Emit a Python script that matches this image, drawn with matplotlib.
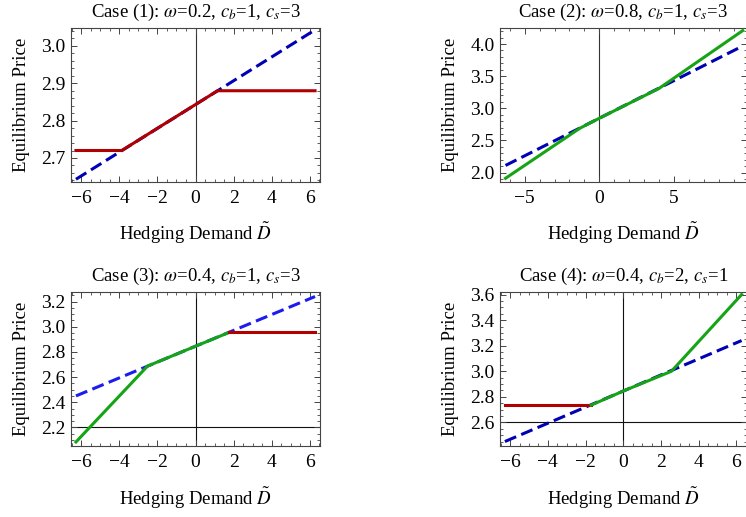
import matplotlib
matplotlib.use("Agg")
import matplotlib.pyplot as plt
from matplotlib.ticker import MultipleLocator, FuncFormatter

plt.rcParams['font.family'] = ['Liberation Serif', 'DejaVu Serif']
plt.rcParams['mathtext.fontset'] = 'stix'
plt.rcParams['axes.unicode_minus'] = True

# ---------------- data ----------------
titles = [r"Case (1): $\omega$=0.2, $c_b$=1, $c_s$=3",
          r"Case (2): $\omega$=0.8, $c_b$=1, $c_s$=3",
          r"Case (3): $\omega$=0.4, $c_b$=1, $c_s$=3",
          r"Case (4): $\omega$=0.4, $c_b$=2, $c_s$=1"]
xlabel = r"Hedging Demand $\tilde{D}$"
ylabel = "Equilibrium Price"

# Case 1
c1_blue_x = [-6.28, 6.28]
c1_blue_y = [2.643, 3.043]
c1_red_x = [-6.28, -3.87, 1.16, 6.28]
c1_red_y = [2.72, 2.72, 2.88, 2.88]

# Case 2
c2_blue_x = [-6.28, 9.6]
c2_blue_y = [2.11, 3.97]
c2_green_x = [-6.28, -1.3, 0.0, 4.0, 9.6]
c2_green_y = [1.91, 2.69, 2.845, 3.31, 4.21]

# Case 3
c3_blue_x = [-6.28, 6.28]
c3_blue_y = [2.45, 3.24]
c3_green_x = [-6.28, -2.52, 0.0, 1.77]
c3_green_y = [2.084, 2.687, 2.845, 2.955]
c3_red_x = [1.77, 6.28]
c3_red_y = [2.955, 2.955]

# Case 4
c4_blue_x = [-6.28, 6.28]
c4_blue_y = [2.45, 3.24]
c4_red_x = [-6.28, -1.7]
c4_red_y = [2.735, 2.735]
c4_green_x = [-1.7, 0.0, 2.56, 6.28]
c4_green_y = [2.735, 2.845, 3.0, 3.6]

xlims = [(-6.54, 6.54), (-6.65, 9.85), (-6.54, 6.54), (-6.54, 6.54)]
ylims = [(2.637, 3.048), (1.86, 4.25), (2.052, 3.276), (2.415, 3.62)]
x_major = [2, 5, 2, 2]
x_minor = [0.5, 1, 0.5, 0.5]
y_major = [0.1, 0.5, 0.2, 0.2]
y_minor = [0.02, 0.1, 0.05, 0.05]
hlines = [None, None, 2.2, 2.6]

# ---------------- styling ----------------
RED = '#b00000'
GREEN = '#15a415'
BLUE_DARK = '#0000b4'
BLUE_BRIGHT = '#1c1cf0'
LW = 2.2
DASH = (4, 1.8)

W, H = 746, 517
fig = plt.figure(figsize=(W / 100, H / 100), dpi=100)


def pos(l, t, r, b):
    return [l / W, 1 - b / H, (r - l) / W, (b - t) / H]


def fmt_int(v, p):
    s = '%d' % round(v)
    return s.replace('-', '\u2212')


def fmt_1(v, p):
    s = '%.1f' % v
    return s.replace('-', '\u2212')


boxes = [pos(71, 28, 320, 181.5), pos(500, 28, 746.5, 181.5),
         pos(71, 292, 320, 446), pos(500, 292, 746.5, 446)]
axes = [fig.add_axes(b) for b in boxes]

for i, ax in enumerate(axes):
    ax.set_xlim(*xlims[i])
    ax.set_ylim(*ylims[i])
    ax.axvline(0, color='#333333' if i < 2 else '#111111', lw=0.8, zorder=1)
    if hlines[i] is not None:
        ax.axhline(hlines[i], color='#111111', lw=0.8, zorder=1)
    ax.xaxis.set_major_locator(MultipleLocator(x_major[i]))
    ax.xaxis.set_minor_locator(MultipleLocator(x_minor[i]))
    ax.yaxis.set_major_locator(MultipleLocator(y_major[i]))
    ax.yaxis.set_minor_locator(MultipleLocator(y_minor[i]))
    ax.xaxis.set_major_formatter(FuncFormatter(fmt_int))
    ax.yaxis.set_major_formatter(FuncFormatter(fmt_1))
    ax.tick_params(which='both', direction='in', top=True, right=True,
                   color='#444444', labelsize=14, pad=4)
    ax.tick_params(axis='x', which='major', pad=6)
    ax.tick_params(which='major', length=4.5, width=0.7)
    ax.tick_params(which='minor', length=2.5, width=0.6)
    for s in ax.spines.values():
        s.set_color('#444444')
        s.set_linewidth(0.8)
    ax.set_title(titles[i], fontsize=13.5, pad=8)
    ax.set_xlabel(xlabel, fontsize=13.5, labelpad=10)
    ax.set_ylabel(ylabel, fontsize=13.5, labelpad=8)

ax1, ax2, ax3, ax4 = axes
ax1.plot(c1_blue_x, c1_blue_y, color=BLUE_DARK, lw=LW, dashes=DASH, zorder=2)
ax1.plot(c1_red_x, c1_red_y, color=RED, lw=LW, zorder=3)

ax2.plot(c2_blue_x, c2_blue_y, color=BLUE_DARK, lw=LW, dashes=DASH, zorder=2)
ax2.plot(c2_green_x, c2_green_y, color=GREEN, lw=LW, zorder=3)

ax3.plot(c3_blue_x, c3_blue_y, color=BLUE_BRIGHT, lw=LW, dashes=DASH, zorder=2)
ax3.plot(c3_green_x, c3_green_y, color=GREEN, lw=LW, zorder=3)
ax3.plot(c3_red_x, c3_red_y, color=RED, lw=LW, zorder=3)

ax4.plot(c4_blue_x, c4_blue_y, color=BLUE_DARK, lw=LW, dashes=DASH, zorder=2)
ax4.plot(c4_red_x, c4_red_y, color=RED, lw=LW, zorder=3)
ax4.plot(c4_green_x, c4_green_y, color=GREEN, lw=LW, zorder=3)

fig.savefig('out.png', dpi=100)
